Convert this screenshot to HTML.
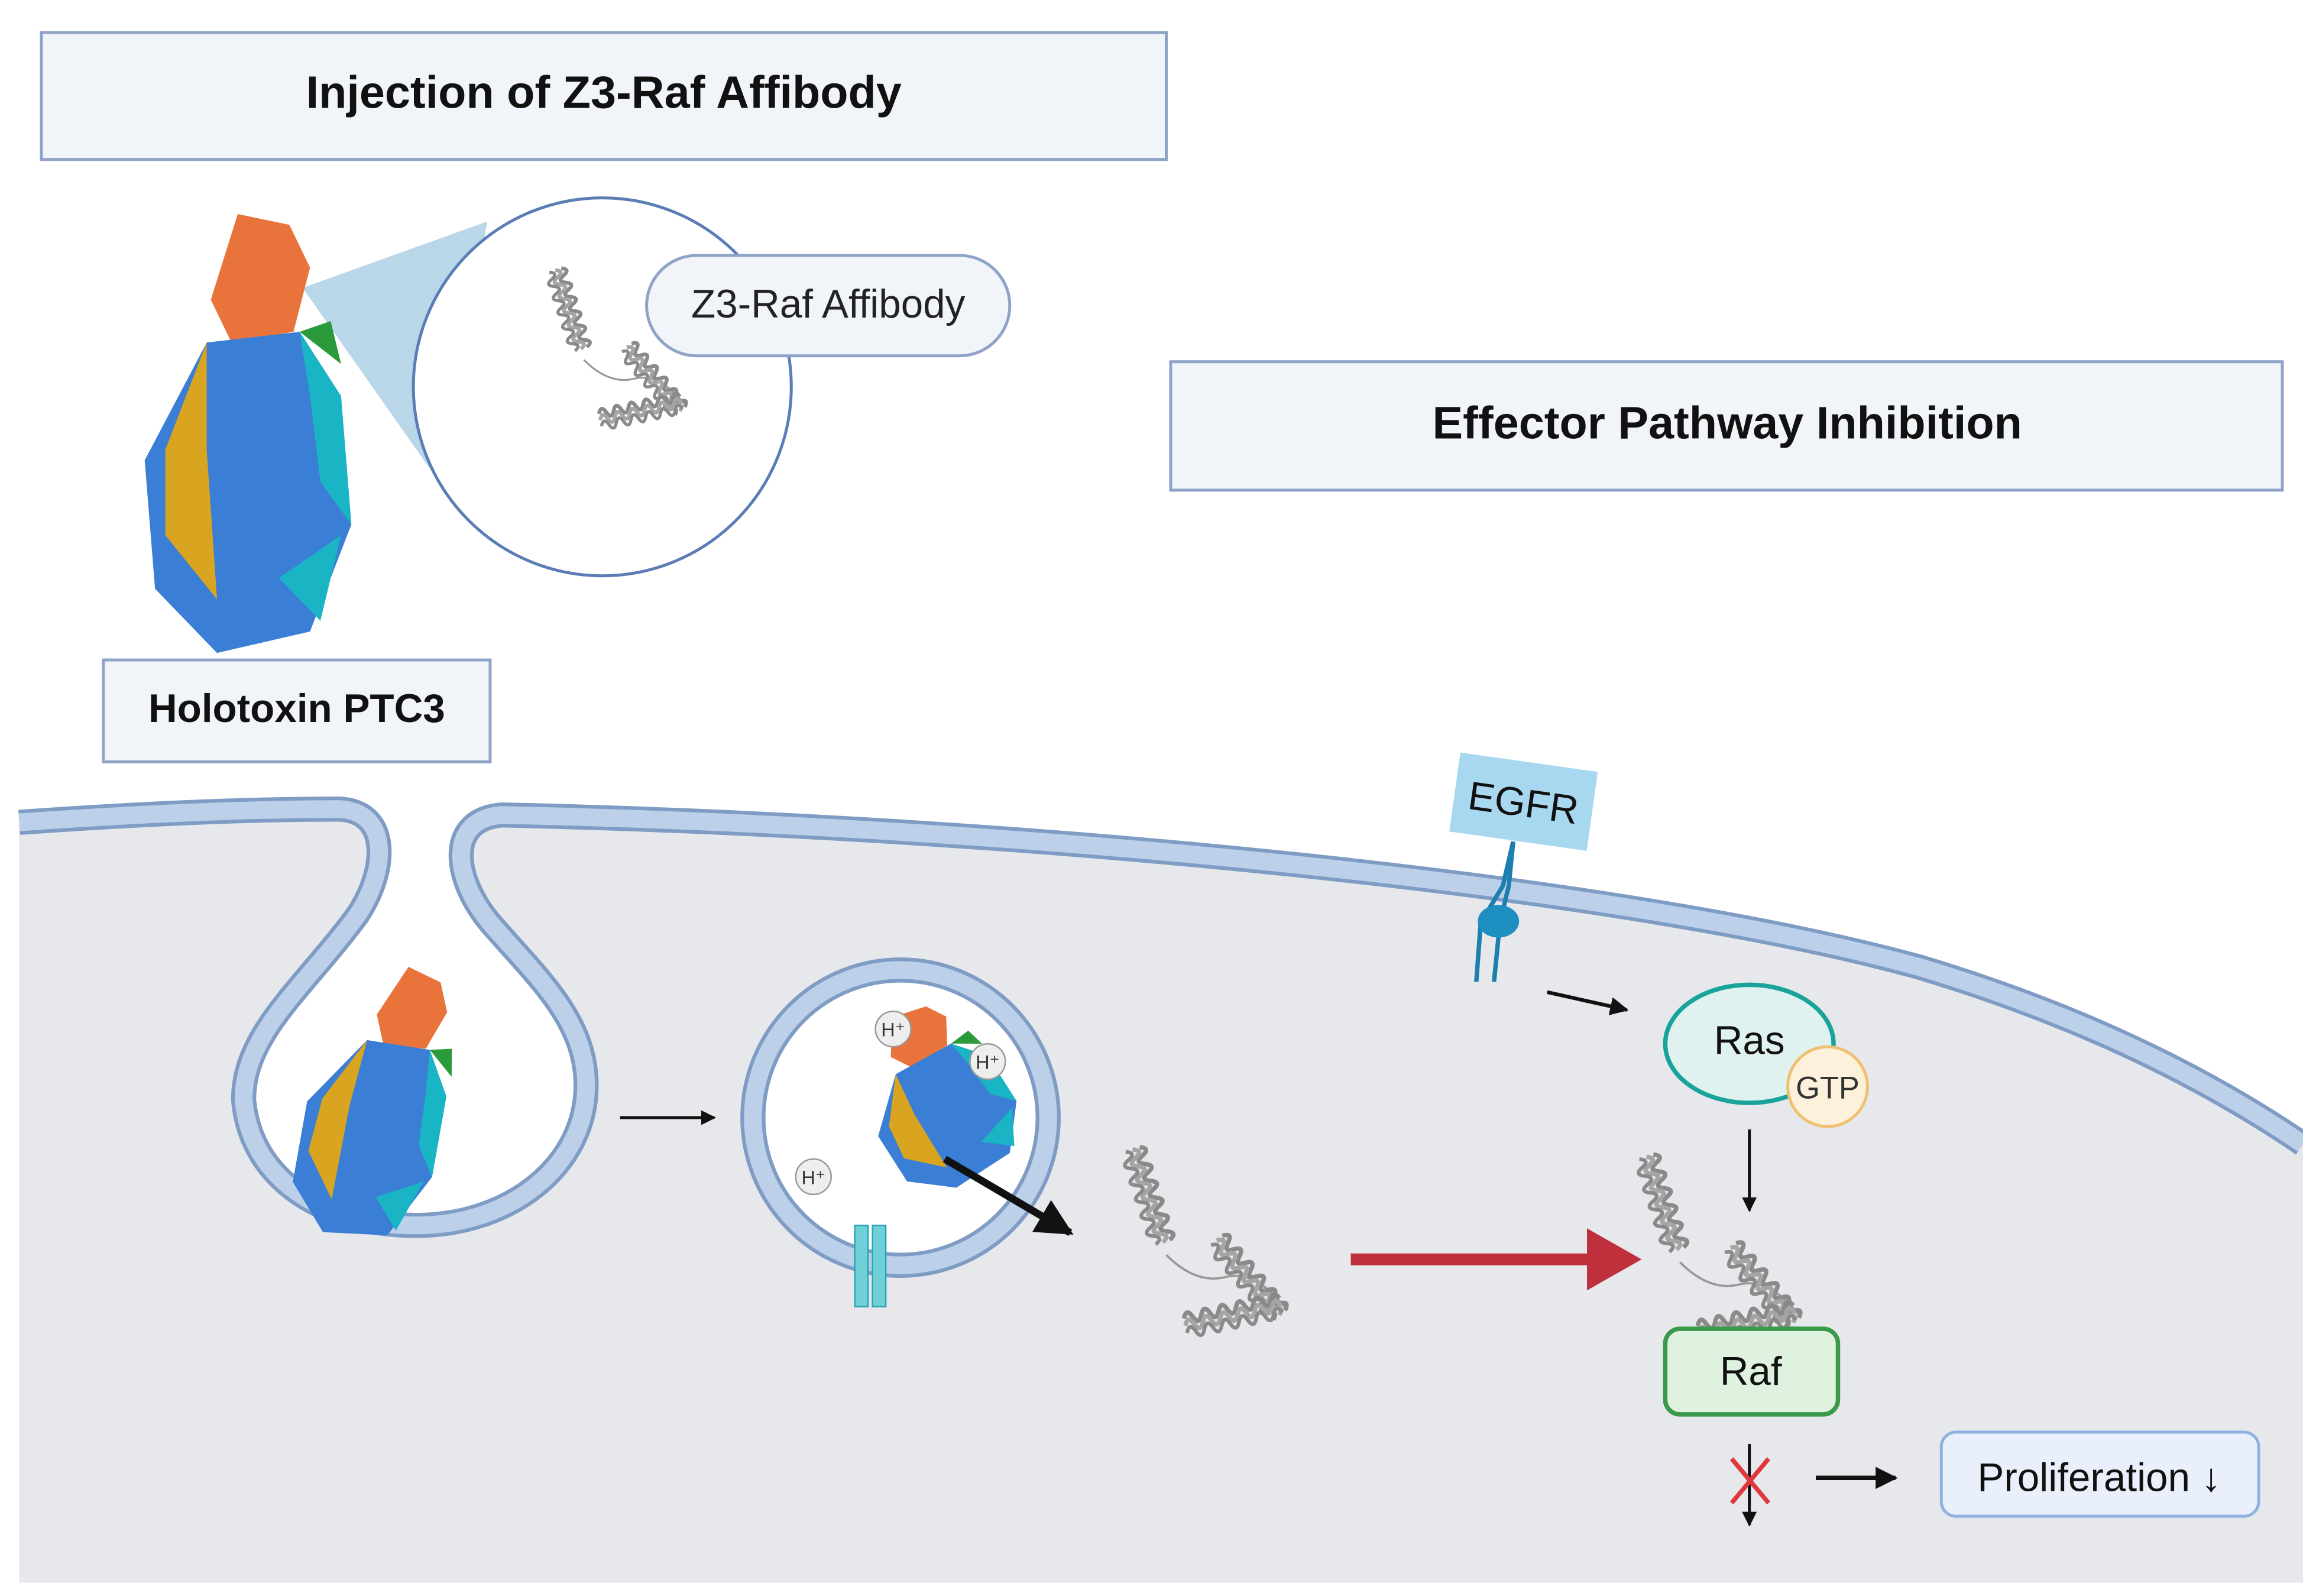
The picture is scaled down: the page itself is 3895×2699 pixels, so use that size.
<!DOCTYPE html>
<html><head><meta charset="utf-8"><style>
html,body{margin:0;padding:0;background:#fff;}
svg{display:block;}
text{font-family:"Liberation Sans",Arial,sans-serif;}
</style></head><body>
<svg width="3895" height="2699" viewBox="0 0 1560 1081" xmlns="http://www.w3.org/2000/svg">
<defs>
<marker id="ah" viewBox="0 0 10 10" refX="9" refY="5" markerWidth="5" markerHeight="5" orient="auto"><path d="M0,0 L10,5 L0,10 z" fill="#111"/></marker>
<g id="coil">
<path d="M0,0 q3,-7 6,0 t6,0 t6,0 t6,0 t6,0 t6,0 t6,0 t6,0 t6,0 t6,0 t6,0" fill="none" stroke="#8a8a8a" stroke-width="3"/>
<path d="M0,5 q3,-7 6,0 t6,0 t6,0 t6,0 t6,0 t6,0 t6,0 t6,0 t6,0 t6,0 t6,0" fill="none" stroke="#a5a5a5" stroke-width="3"/>
<path d="M0,10 q3,-7 6,0 t6,0 t6,0 t6,0 t6,0 t6,0 t6,0 t6,0 t6,0 t6,0 t6,0" fill="none" stroke="#8a8a8a" stroke-width="2.5"/>
</g>
<g id="affi">
<use href="#coil" transform="translate(12,2) rotate(72)"/>
<path d="M30,75 q20,20 40,15 q20,-5 40,20" fill="none" stroke="#999" stroke-width="1.5"/>
<use href="#coil" transform="translate(68,62) rotate(50)"/>
<use href="#coil" transform="translate(42,118) rotate(-12)"/>
</g>
<g id="toxin">
<path d="M40,0 l25,5 l10,20 l-8,30 l-30,5 l-10,-20 z" fill="#e8743b"/>
<path d="M25,60 l45,-5 l20,30 l5,60 l-20,50 l-45,10 l-30,-30 l-5,-60 z" fill="#3a7fd5"/>
<path d="M25,60 l-20,50 l0,40 l25,30 l-5,-70 z" fill="#d9a420"/>
<path d="M70,55 l20,30 l5,60 l-15,-20 l-5,-40 z" fill="#1ab5c5"/>
<path d="M60,170 l30,-20 l-10,40 z" fill="#1ab5c5"/>
<path d="M70,55 l15,-5 l5,20 z" fill="#2a9a3a"/>
</g>
</defs>

<path d="M13,557 Q140,548 230,548 C265,550 262,590 242,620 C205,670 165,700 165,745 C170,800 220,830 282,830 C345,830 397,790 397,735 C397,690 362,660 332,625 C307,595 302,555 340,552 C700,560 1100,600 1300,655 Q1450,700 1560,775 L1560,1072 L13,1072 Z" fill="#e6e8eb"/>
<path d="M13,557 Q140,548 230,548 C265,550 262,590 242,620 C205,670 165,700 165,745 C170,800 220,830 282,830 C345,830 397,790 397,735 C397,690 362,660 332,625 C307,595 302,555 340,552 C700,560 1100,600 1300,655 Q1450,700 1560,775" fill="none" stroke="#7f9cc5" stroke-width="17"/>
<path d="M13,557 Q140,548 230,548 C265,550 262,590 242,620 C205,670 165,700 165,745 C170,800 220,830 282,830 C345,830 397,790 397,735 C397,690 362,660 332,625 C307,595 302,555 340,552 C700,560 1100,600 1300,655 Q1450,700 1560,775" fill="none" stroke="#bcd0ea" stroke-width="12"/>

<rect x="28" y="22" width="762" height="86" fill="#f1f4f9" stroke="#8fa3c8" stroke-width="2"/>
<text x="409" y="73" font-size="31" font-weight="bold" text-anchor="middle" fill="#111">Injection of Z3-Raf Affibody</text>
<rect x="793" y="245" width="753" height="87" fill="#f1f4f9" stroke="#8fa3c8" stroke-width="2"/>
<text x="1170" y="297" font-size="31" font-weight="bold" text-anchor="middle" fill="#111">Effector Pathway Inhibition</text>
<rect x="70" y="447" width="262" height="69" fill="#f1f4f9" stroke="#8fa3c8" stroke-width="2"/>
<text x="201" y="489" font-size="27" font-weight="bold" text-anchor="middle" fill="#111">Holotoxin PTC3</text>

<path d="M205,195 L330,150 L300,330 Z" fill="#a9cce3" opacity="0.8"/>
<circle cx="408" cy="262" r="128" fill="#fff" stroke="#5a7db5" stroke-width="2"/>
<use href="#affi" transform="translate(370,180) scale(0.85)"/>
<rect x="438" y="173" width="246" height="68" rx="34" fill="#f1f4f9" stroke="#8fa3c8" stroke-width="2"/>
<text x="561" y="215" font-size="27" text-anchor="middle" fill="#222">Z3-Raf Affibody</text>

<use href="#toxin" transform="translate(105,145) scale(1.4,1.45)"/>
<use href="#toxin" transform="translate(240,645) rotate(15) scale(0.95,0.92)"/>

<circle cx="610" cy="757" r="100" fill="#fff" stroke="#7f9cc5" stroke-width="17"/>
<circle cx="610" cy="757" r="100" fill="none" stroke="#bcd0ea" stroke-width="12"/>
<use href="#toxin" transform="translate(570,705) rotate(-25) scale(0.95,0.6)"/>
<g font-size="13" text-anchor="middle" fill="#333">
<circle cx="605" cy="697" r="12" fill="#eee" stroke="#999"/><text x="605" y="702">H⁺</text>
<circle cx="669" cy="719" r="12" fill="#eee" stroke="#999"/><text x="669" y="724">H⁺</text>
<circle cx="551" cy="797" r="12" fill="#eee" stroke="#999"/><text x="551" y="802">H⁺</text>
</g>
<rect x="579" y="830" width="9" height="55" fill="#6fd0d8" stroke="#2aa5b5"/>
<rect x="591" y="830" width="9" height="55" fill="#6fd0d8" stroke="#2aa5b5"/>
<line x1="640" y1="785" x2="725" y2="835" stroke="#111" stroke-width="5" marker-end="url(#ah)"/>

<use href="#affi" transform="translate(760,775)"/>
<use href="#affi" transform="translate(1108,780)"/>

<line x1="420" y1="757" x2="484" y2="757" stroke="#111" stroke-width="2" marker-end="url(#ah)"/>
<line x1="1048" y1="672" x2="1102" y2="684" stroke="#111" stroke-width="2.5" marker-end="url(#ah)"/>
<line x1="1185" y1="765" x2="1185" y2="820" stroke="#111" stroke-width="2" marker-end="url(#ah)"/>
<line x1="915" y1="853" x2="1080" y2="853" stroke="#bf2f3c" stroke-width="8"/>
<path d="M1075,832 L1112,853 L1075,874 Z" fill="#bf2f3c"/>
<line x1="1185" y1="978" x2="1185" y2="1033" stroke="#111" stroke-width="2" marker-end="url(#ah)"/>
<path d="M1173,988 L1198,1018 M1198,988 L1173,1018" stroke="#e0373d" stroke-width="3"/>
<line x1="1230" y1="1001" x2="1284" y2="1001" stroke="#111" stroke-width="3" marker-end="url(#ah)"/>

<g transform="translate(1032,543) rotate(8)">
<rect x="-47" y="-27" width="94" height="54" fill="#a8d8f0"/>
<text x="0" y="10" font-size="27" text-anchor="middle" fill="#111">EGFR</text>
</g>
<path d="M1025,570 L1018,600 L1003,625 L1000,665 M1025,570 L1022,600 L1016,625 L1012,665" fill="none" stroke="#1d7fb0" stroke-width="3"/>
<ellipse cx="1015" cy="624" rx="14" ry="11" fill="#1d8fc0"/>

<ellipse cx="1185" cy="707" rx="57" ry="40" fill="#e0f2ef" stroke="#1aa39a" stroke-width="3"/>
<text x="1185" y="714" font-size="27" text-anchor="middle" fill="#111">Ras</text>
<circle cx="1238" cy="736" r="27" fill="#fdf1dc" stroke="#f0c070" stroke-width="2"/>
<text x="1238" y="744" font-size="21" text-anchor="middle" fill="#333">GTP</text>

<rect x="1128" y="900" width="117" height="58" rx="10" fill="#dff2df" stroke="#3a9a4a" stroke-width="3"/>
<text x="1186" y="938" font-size="27" text-anchor="middle" fill="#111">Raf</text>

<rect x="1315" y="970" width="215" height="57" rx="10" fill="#eaf0fb" stroke="#8fb0e0" stroke-width="2"/>
<text x="1422" y="1010" font-size="27" text-anchor="middle" fill="#111">Proliferation ↓</text>
</svg>
</body></html>
